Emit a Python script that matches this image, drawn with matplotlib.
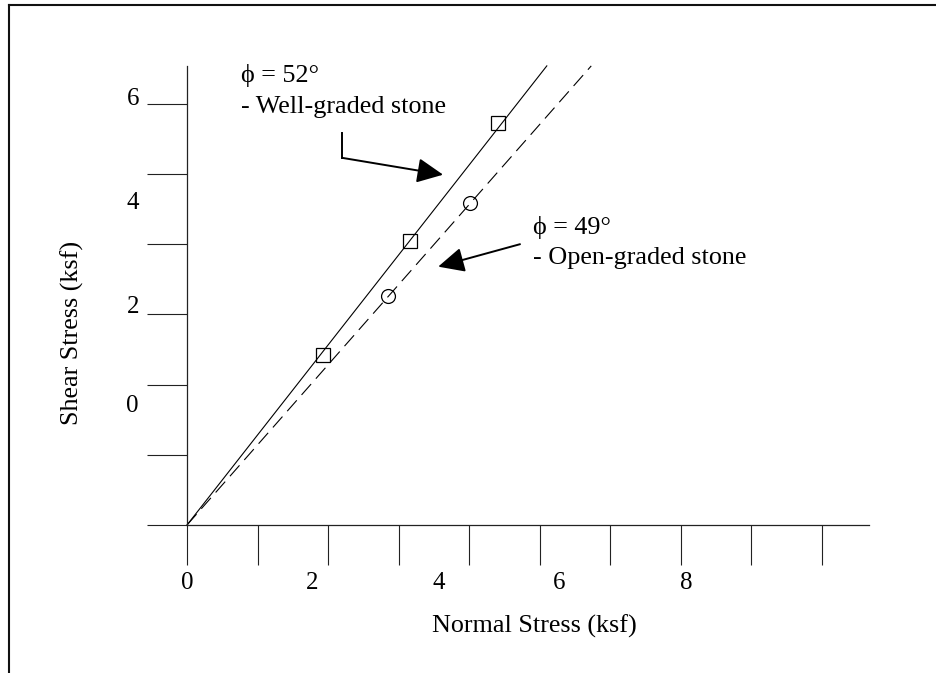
import matplotlib
matplotlib.use('Agg')
import matplotlib.pyplot as plt
from matplotlib.lines import Line2D

plt.rcParams['font.family'] = ['Liberation Serif', 'DejaVu Serif']

# measured test points (ksf)
well_x = [1.93, 3.16, 4.41]
well_y = [2.42, 4.05, 5.72]
open_x = [2.85, 4.01]
open_y = [3.26, 4.58]

# failure envelopes drawn from the origin
well_line_x = [0, 5.10]
well_line_y = [0, 6.54]
open_line_x = [0, 5.73]
open_line_y = [0, 6.54]

x_ticks = list(range(0, 10))
y_ticks = list(range(0, 7))
x_tick_labels = ['0', '2', '4', '6', '8']
y_tick_labels = ['6', '4', '2', '0']

# the labels in the original sit off their ticks, so place them by hand
x_label_pos = [0, 1.78, 3.57, 5.27, 7.07]
y_label_pos = [6.07, 4.59, 3.10, 1.69]

W, H = 937, 673
fig = plt.figure(figsize=(W / 100, H / 100), dpi=100)
ax = fig.add_axes([0, 0, 1, 1])
px_x, px_y = 70.55, 70.2
ox, oy = 187, 525
ax.set_xlim(-ox / px_x, (W - ox) / px_x)
ax.set_ylim(-(H - oy) / px_y, oy / px_y)
ax.patch.set_alpha(0)

for s in ['top', 'right']:
    ax.spines[s].set_visible(False)
ax.spines['left'].set_position(('data', 0))
ax.spines['bottom'].set_position(('data', 0))
ax.spines['left'].set_bounds(0, 6.54)
ax.spines['bottom'].set_bounds(0, 9.66)
for s in ['left', 'bottom']:
    ax.spines[s].set_linewidth(0.9)
    ax.spines[s].set_color('#222222')

ax.set_xticks(x_ticks)
ax.set_yticks(y_ticks)
ax.set_xticklabels([])
ax.set_yticklabels([])
ax.tick_params(axis='both', direction='out', length=28.8, width=0.8, color='#222222')

fs = 18.8
fs_num = 18
for lab, p in zip(x_tick_labels, x_label_pos):
    ax.text(p, -0.82, lab, ha='center', va='center', fontsize=fs_num)
for lab, p in zip(y_tick_labels, y_label_pos):
    ax.text(-0.77, p, lab, ha='center', va='center', fontsize=fs_num)

ax.text(4.93, -1.45, 'Normal Stress (ksf)', ha='center', va='center', fontsize=fs)
ax.text(-1.63, 2.73, 'Shear Stress (ksf)', ha='center', va='center', rotation=90, fontsize=fs)

ax.plot(well_line_x, well_line_y, color='black', lw=0.8)
ax.plot(open_line_x, open_line_y, color='black', lw=0.8, dashes=(13, 6.5))
ax.plot(well_x, well_y, 's', ms=10, mfc='none', mec='black', mew=0.9)
ax.plot(open_x, open_y, 'o', ms=10, mfc='none', mec='black', mew=0.9)

ax.text(0.77, 6.40, '\u03d5 = 52\u00b0', ha='left', va='center', fontsize=fs)
ax.text(0.77, 5.95, '- Well-graded stone', ha='left', va='center', fontsize=fs)
ax.text(4.91, 4.235, '\u03d5 = 49\u00b0', ha='left', va='center', fontsize=fs)
ax.text(4.91, 3.80, '- Open-graded stone', ha='left', va='center', fontsize=fs)

arrow = dict(arrowstyle='-|>,head_length=0.8,head_width=0.38', color='black',
             lw=1.4, mutation_scale=20, shrinkA=0, shrinkB=0)
ax.plot([2.2, 2.2], [5.58, 5.23], color='black', lw=1.4)
ax.annotate('', xy=(3.63, 4.99), xytext=(2.2, 5.23), arrowprops=arrow)
ax.annotate('', xy=(3.56, 3.68), xytext=(4.72, 4.0), arrowprops=arrow)

# page frame
fx = 9 / W
fy = 1 - 5 / H
fig.add_artist(Line2D([fx, fx], [0, fy], transform=fig.transFigure, color='#111111', lw=1.5))
fig.add_artist(Line2D([fx, 1], [fy, fy], transform=fig.transFigure, color='#111111', lw=1.5))

fig.savefig('out.png', dpi=100)
